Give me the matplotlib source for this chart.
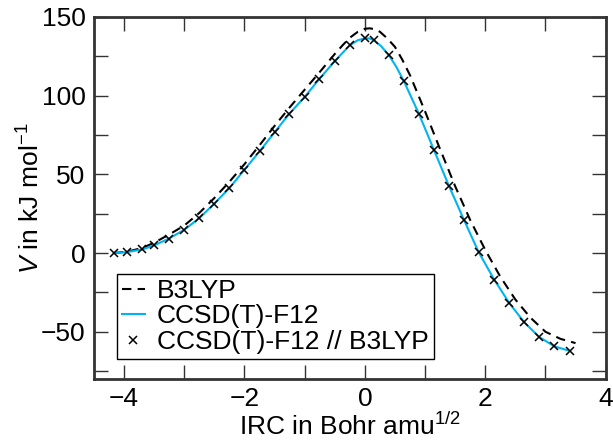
import numpy as np
import matplotlib.pyplot as plt

plt.rcParams['font.family'] = ['Liberation Sans', 'DejaVu Sans']
plt.rcParams['mathtext.fontset'] = 'custom'
plt.rcParams['mathtext.rm'] = 'Liberation Sans'
plt.rcParams['mathtext.it'] = 'Liberation Sans:italic'

# B3LYP IRC (dashed)
irc_b3lyp = [-4.17, -3.95, -3.70, -3.50, -3.25, -3.00, -2.75, -2.50, -2.25, -2.00,
             -1.75, -1.50, -1.25, -1.00, -0.75, -0.50, -0.37, -0.25, -0.12, 0.00,
             0.08, 0.17, 0.25, 0.37, 0.50, 0.62, 0.75, 1.00, 1.25, 1.50,
             1.75, 2.00, 2.25, 2.50, 2.75, 3.00, 3.25, 3.50]
v_b3lyp = [0.0, 0.9, 3.2, 6.6, 11.8, 17.5, 25.5, 35.0, 45.3, 56.5,
           68.5, 80.8, 92.5, 103.8, 115.0, 126.5, 132.0, 136.8, 140.5, 142.5,
           142.8, 142.2, 140.6, 136.5, 131.0, 123.0, 113.0, 90.0, 66.0, 42.5,
           21.0, 2.0, -15.0, -29.5, -41.0, -50.0, -54.5, -57.2]

# CCSD(T)-F12 IRC (solid)
irc_cc = [-4.17, -3.95, -3.70, -3.50, -3.26, -3.00, -2.75, -2.51, -2.25, -2.00,
          -1.75, -1.50, -1.26, -1.00, -0.76, -0.50, -0.25, -0.12, 0.00, 0.07,
          0.15, 0.27, 0.40, 0.52, 0.65, 0.90, 1.15, 1.40, 1.65, 1.89,
          2.15, 2.40, 2.65, 2.90, 3.15, 3.40]
v_cc = [0.0, 0.6, 2.3, 4.9, 9.1, 14.8, 22.2, 31.1, 41.3, 53.0,
        64.6, 76.7, 88.3, 99.2, 110.4, 122.0, 132.0, 135.2, 136.4, 136.4,
        135.2, 131.5, 125.6, 118.5, 109.1, 88.3, 65.3, 42.4, 20.8, 0.6,
        -16.9, -31.8, -44.1, -53.4, -59.3, -62.1]

# CCSD(T)-F12 // B3LYP single points (crosses)
irc_sp = [-4.17, -3.95, -3.70, -3.50, -3.26, -3.00, -2.75, -2.51, -2.25, -2.00,
          -1.75, -1.50, -1.26, -1.00, -0.76, -0.50, -0.25, 0.00, 0.15, 0.40,
          0.65, 0.90, 1.15, 1.40, 1.65, 1.89, 2.15, 2.40, 2.65, 2.90,
          3.15, 3.40]
v_sp = [0.0, 0.6, 2.3, 4.9, 9.1, 14.8, 22.2, 31.1, 41.3, 53.0,
        64.6, 76.7, 88.3, 99.2, 110.4, 122.0, 132.0, 136.4, 135.2, 125.6,
        109.1, 88.3, 65.3, 42.4, 20.8, 0.6, -16.9, -31.8, -44.1, -53.4,
        -59.3, -62.1]

fig = plt.figure(figsize=(6.13, 4.41), dpi=100)
ax = fig.add_axes([0.1533, 0.1406, 0.8347, 0.8209])

ax.plot(irc_b3lyp, v_b3lyp, color='black', linestyle=(0, (4.5, 3)), linewidth=1.5,
        label='B3LYP')
ax.plot(irc_cc, v_cc, color='#00b4f0', linewidth=1.5, label='CCSD(T)-F12')
ax.plot(irc_sp, v_sp, linestyle='none', marker='x', color='black', markersize=6,
        markeredgewidth=1.1, label='CCSD(T)-F12 // B3LYP')

ax.set_xlim(-4.5, 4)
ax.set_ylim(-80, 150)
ax.set_xticks([-4, -2, 0, 2, 4])
ax.set_xticks(np.arange(-4, 5, 1), minor=True)
ax.set_yticks([-50, 0, 50, 100, 150])
ax.set_yticks(np.arange(-75, 151, 25), minor=True)
ax.tick_params(which='both', direction='in', top=True, right=True, length=10,
               width=1, color='#333333', labelsize=19, pad=6)
for s in ax.spines.values():
    s.set_linewidth(2)
    s.set_color('#333333')

ax.set_xlabel('IRC in Bohr amu$^{1/2}$', fontsize=19, labelpad=1)
ax.set_ylabel('$\\mathit{V}$ in kJ mol$^{-1}$', fontsize=19)
ax.yaxis.set_label_coords(-0.097, 0.5)

leg = ax.legend(loc='lower left', bbox_to_anchor=(0.045, 0.055), fontsize=19,
                frameon=True, fancybox=False, edgecolor='black', framealpha=1,
                handlelength=0.85, handletextpad=0.45, borderpad=0.2,
                labelspacing=0.05, borderaxespad=0)
leg.get_frame().set_linewidth(1)

fig.savefig('out.png', dpi=100)
